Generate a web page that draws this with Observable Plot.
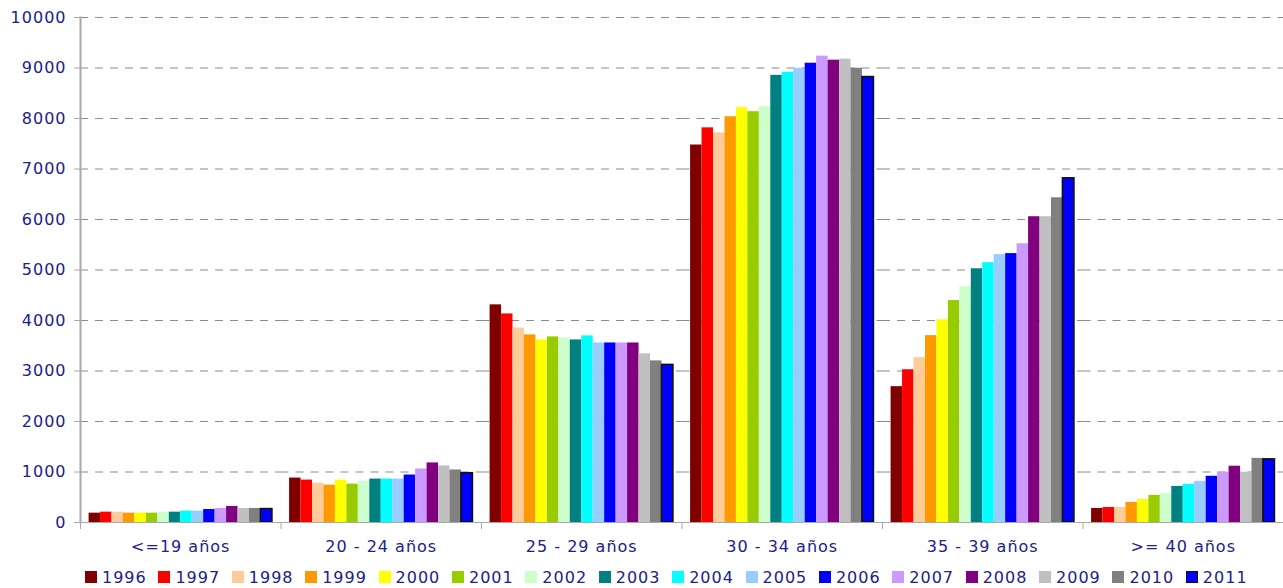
<!DOCTYPE html>
<html>
<head>
<meta charset="utf-8">
<script src="https://cdn.jsdelivr.net/npm/d3@7"></script>
<script src="https://cdn.jsdelivr.net/npm/@observablehq/plot@0.6"></script>
<style>
  body { margin: 0; background: #fff; font-family: "DejaVu Sans", Verdana, sans-serif; }
  #wrap { position: relative; width: 1283px; height: 588px; overflow: hidden; }
  #legend { position: absolute; left: 85px; top: 568px; display: flex; font-size: 16px; line-height: 19px;
            color: #20208c; letter-spacing: 1px; white-space: nowrap; }
  #legend .item { width: 73.4px; flex: none; }
  #legend .sw { display: inline-block; width: 12px; height: 12px; margin-right: 5px; vertical-align: baseline; box-sizing: border-box; }
</style>
</head>
<body>
<div id="wrap">
  <div id="chart"></div>
  <div id="legend"></div>
</div>
<script>
const groups = ["<=19 años", "20 - 24 años", "25 - 29 años", "30 - 34 años", "35 - 39 años", ">= 40 años"];
const years = ["1996","1997","1998","1999","2000","2001","2002","2003","2004","2005","2006","2007","2008","2009","2010","2011"];
const colors = ["#800000","#ff0000","#ffcc99","#ff9900","#ffff00","#99cc00","#ccffcc","#008080",
                "#00ffff","#99ccff","#0000ff","#cc99ff","#800080","#c0c0c0","#808080","#0000ff"];
const yTicks = [0,1000,2000,3000,4000,5000,6000,7000,8000,9000,10000];

const ageUpTo19 = [185,205,205,185,185,185,205,205,225,225,258,278,318,278,278,265];
const age20to24 = [880,840,780,740,840,760,820,860,860,860,940,1060,1180,1120,1040,975];
const age25to29 = [4310,4130,3850,3715,3615,3675,3655,3615,3695,3555,3555,3555,3555,3340,3200,3120];
const age30to34 = [7475,7815,7715,8035,8215,8135,8235,8855,8915,8995,9095,9235,9155,9175,8995,8820];
const age35to39 = [2690,3025,3265,3700,4015,4395,4670,5025,5145,5305,5325,5520,6055,6055,6430,6815];
const age40plus = [278,298,298,397,457,536,576,715,755,815,915,995,1115,995,1270,1250];
const seriesByGroup = [ageUpTo19, age20to24, age25to29, age30to34, age35to39, age40plus];

const data = groups.flatMap((g, i) => years.map((y, j) => ({group: g, year: y, value: seriesByGroup[i][j]})));
const last = years[years.length - 1];

const W = 1283, H = 562, mt = 17, mb = 40, ml = 80, mr = 0;
const axisGray = "#a8a8a8";
const textColor = "#20208c";

const plot = Plot.plot({
  width: W, height: H,
  marginTop: mt, marginBottom: mb, marginLeft: ml, marginRight: mr,
  style: {fontFamily: "'DejaVu Sans', Verdana, sans-serif", fontSize: "16px", color: textColor,
          background: "#fff", letterSpacing: "1px"},
  fx: {domain: groups, padding: 0, round: false},
  x: {domain: years, paddingInner: 0, paddingOuter: 0.75, round: false, axis: null},
  y: {domain: [0, 10000]},
  color: {domain: years, range: colors},
  marks: [
    Plot.gridY({ticks: yTicks.slice(1), stroke: "#8a8a8a", strokeOpacity: 1, strokeDasharray: "8,7"}),
    Plot.barY(data, {fx: "group", x: "year", y: "value", fill: "year"}),
    Plot.barY(data.filter(d => d.year === last), {fx: "group", x: "year", y: "value", fill: "none", stroke: "#111", strokeWidth: 1.6}),
    Plot.ruleY([0], {stroke: axisGray}),
    Plot.frame({anchor: "left", facetAnchor: "left", stroke: axisGray, strokeWidth: 2}),
    Plot.frame({anchor: "left", stroke: axisGray, insetTop: H - mt - mb, insetBottom: -6}),
    Plot.frame({anchor: "right", facetAnchor: "right", stroke: axisGray, insetTop: H - mt - mb, insetBottom: -6}),
    Plot.axisY({ticks: yTicks, tickSize: 6, text: null, stroke: axisGray, label: null}),
    Plot.axisY({ticks: yTicks, tickSize: 0, tickPadding: 14, tickFormat: d3.format("d"), label: null}),
    Plot.axisFx({anchor: "bottom", tickSize: 0, tickPadding: 18, label: null})
  ]
});
document.getElementById("chart").appendChild(plot);

const legend = document.getElementById("legend");
years.forEach((y, i) => {
  const item = document.createElement("span");
  item.className = "item";
  const sw = document.createElement("span");
  sw.className = "sw";
  sw.style.background = colors[i];
  if (y === last) sw.style.border = "1.5px solid #111";
  item.appendChild(sw);
  item.appendChild(document.createTextNode(y));
  legend.appendChild(item);
});
</script>
</body>
</html>
